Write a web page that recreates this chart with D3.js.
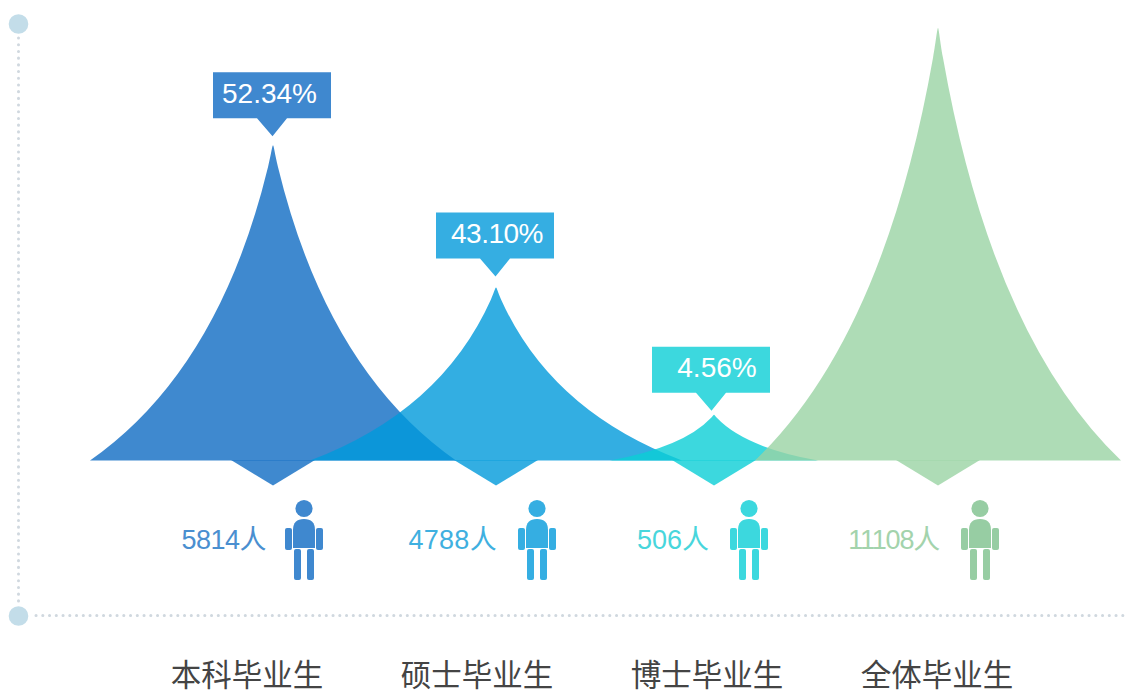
<!DOCTYPE html>
<html><head><meta charset="utf-8">
<style>html,body{margin:0;padding:0;background:#fff;overflow:hidden}svg{display:block}
text{font-family:"Liberation Sans","Noto Sans CJK SC",sans-serif}</style>
<script src="https://cdn.jsdelivr.net/npm/d3@7"></script></head><body>
<svg id="c" width="1127" height="691"></svg>
<script>
const categories = ["本科毕业生","硕士毕业生","博士毕业生","全体毕业生"];
const percentLabels = ["52.34%","43.10%","4.56%",null];
const counts = [5814,4788,506,11108];
const peakHeights = [72.9,40.0,10.6,100];
const peakSpreads = [183,186,104,183];
const fills = ["rgba(15,107,195,.8)","rgba(0,154,219,.8)","rgba(11,206,214,.8)","rgba(154,211,164,.8)"];
const solids = ["#3f88cf","#35aee2","#3cd8de","#aedcb6"];
const personColors = ["#3f88cf","#35aee2","#3cd8de","#97cda3"];
const textColors = ["#4a8fd0","#3fb0e0","#48d6dc","#a3d3ac"];

const svg = d3.select("#c");
const baseY = 460.5;
const y = d3.scaleLinear().domain([0,100]).range([baseY,28]);
const xPeak = d3.scalePoint().domain(categories).range([276,936]);
const xLabel = d3.scalePoint().domain(categories).range([247,937]);
const peakNudge = [-3,0,-2,2];
const peakX = (d,i)=>xPeak(d)+peakNudge[i];
const personX = [304,537,749,980];

// axes
const ax = svg.append("g");
ax.append("path").attr("d","M18.5 38V606").attr("stroke","#d0d8df").attr("stroke-width",3)
  .attr("stroke-dasharray","0.1 6.6").attr("stroke-linecap","round").attr("fill","none");
ax.append("path").attr("d","M36 615.5H1127").attr("stroke","#d0d8df").attr("stroke-width",3)
  .attr("stroke-dasharray","0.1 6.65").attr("stroke-linecap","round").attr("fill","none");
ax.selectAll("circle").data([24,616]).join("circle").attr("cx",18.5).attr("cy",d=>d).attr("r",9.8).attr("fill","#c3dde9");

// peaks: concave flanks with a slightly rounded tip, tangent-continuous at the join
function peakPath(px,top,w){
  const h = baseY-top, t0 = 0.05;
  const cx = 0.26, cy = 0.7;
  const sx = 2*t0*(1-t0)*cx + t0*t0, sy = 2*t0*(1-t0)*cy + t0*t0;
  const c2x = cx+(1-cx)*t0, c2y = cy+(1-cy)*t0;
  const dx = sx*w, dy = sy*h;
  const slope = (c2x*w-dx)/(c2y*h-dy);
  const k1x = dx - slope*0.6*dy, k1y = top+0.4*dy, k2x = 0.45*k1x;
  return `M${px-w} ${baseY}Q${px-c2x*w} ${top+c2y*h} ${px-dx} ${top+dy}`
       + `C${px-k1x} ${k1y} ${px-k2x} ${top} ${px} ${top}`
       + `C${px+k2x} ${top} ${px+k1x} ${k1y} ${px+dx} ${top+dy}`
       + `Q${px+c2x*w} ${top+c2y*h} ${px+w} ${baseY}Z`;
}
categories.forEach((c,i)=>{
  const px = peakX(c,i);
  const g = svg.append("g");
  g.append("path").attr("d",peakPath(px,y(peakHeights[i]),peakSpreads[i])).attr("fill",fills[i]);
  g.append("path").attr("d",`M${px-42} ${baseY-0.5}L${px} ${baseY+25}L${px+42} ${baseY-0.5}Z`).attr("fill",fills[i]);
});

// callouts
const boxShift = [-1,-1,-3];
const tipGap = [9,11,4];
const textNudge = [-2.5,2,6];
const pctSpacing = [0,-0.5,0];
categories.forEach((c,i)=>{
  if(!percentLabels[i]) return;
  const px = peakX(c,i)+boxShift[i], tipY = y(peakHeights[i])-tipGap[i], boxB = tipY-18, boxT = boxB-46;
  svg.append("path").attr("d",`M${px-59} ${boxT}H${px+59}V${boxB}H${px+15}L${px+0.5} ${tipY}L${px-15} ${boxB}H${px-59}Z`).attr("fill",solids[i]);
  svg.append("text").attr("x",px+textNudge[i]).attr("y",boxT+30.5).attr("text-anchor","middle")
    .attr("font-size",28).attr("letter-spacing",pctSpacing[i]).attr("fill","#fff").text(percentLabels[i]);
});

// counts + person icons
const countGap = [38,40,40,41];
const countSpacing = [-0.5,0.3,0,-1.2];
categories.forEach((c,i)=>{
  const cx = personX[i];
  const g = svg.append("g").attr("fill",personColors[i]);
  g.append("circle").attr("cx",cx).attr("cy",508.5).attr("r",8.6);
  g.append("path").attr("d",`M${cx-11} 548V530Q${cx-11} 519 ${cx} 519Q${cx+11} 519 ${cx+11} 530V548Z`);
  g.append("rect").attr("x",cx-19).attr("y",528).attr("width",7).attr("height",22).attr("rx",2);
  g.append("rect").attr("x",cx+12).attr("y",528).attr("width",7).attr("height",22).attr("rx",2);
  g.append("rect").attr("x",cx-10).attr("y",549).attr("width",7).attr("height",31).attr("rx",2);
  g.append("rect").attr("x",cx+3).attr("y",549).attr("width",7).attr("height",31).attr("rx",2);
  svg.append("text").attr("x",cx-countGap[i]).attr("y",548.5).attr("text-anchor","end")
    .attr("font-size",27).attr("letter-spacing",countSpacing[i]).attr("fill",textColors[i]).text(counts[i]+"人");
});

// category labels
svg.selectAll(".cat").data(categories).join("text").attr("class","cat")
  .attr("x",d=>xLabel(d)).attr("y",686).attr("text-anchor","middle")
  .attr("font-size",30.5).attr("fill","#444").text(d=>d);
</script></body></html>
